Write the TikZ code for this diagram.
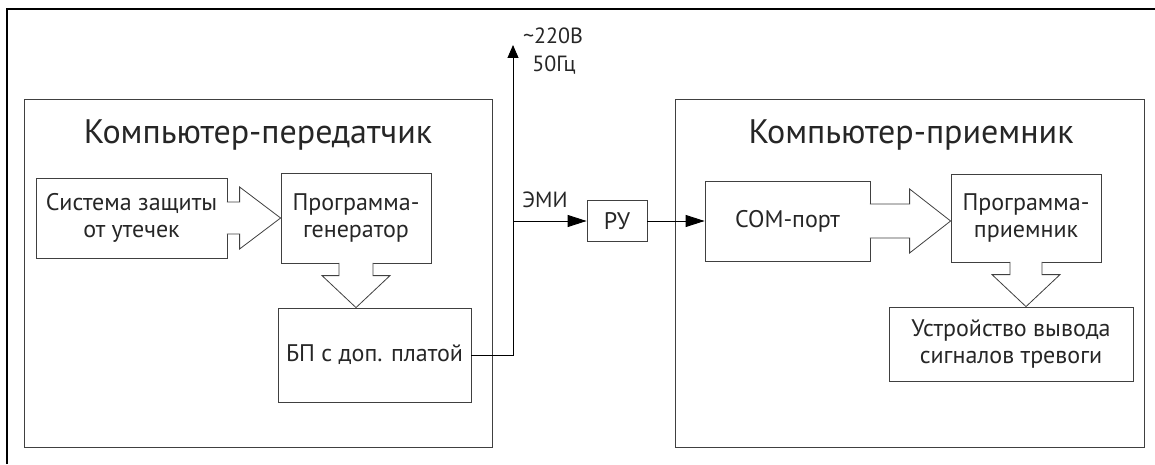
\documentclass[tikz,border=0pt]{standalone}
\usepackage{fontspec}
\setmainfont{PT Sans}
\usetikzlibrary{arrows.meta,calc}

\begin{document}
\begin{tikzpicture}[x=1pt,y=-1pt]
\tikzstyle{every node}+=[inner sep=0pt, font=\fontsize{24}{27}\selectfont, text=black!85]
\tikzstyle{blk}=[draw=black!75, line width=0.8pt, rectangle, align=center]
\tikzstyle{fat}=[draw=black!75, line width=0.8pt, fill=white, line join=miter]
\tikzstyle{wire}=[draw=black, line width=0.9pt]
\tikzstyle{ttl}=[font=\fontsize{34}{38}\selectfont]
\tikzstyle{lbl}=[font=\fontsize{22}{26}\selectfont]
\useasboundingbox (0,0) rectangle (1155,465);
\draw [black, line width=1.6pt] (7,464) -- (7,9) -- (1155,9);
% transmitter side
\node [blk, minimum width=468pt, minimum height=348pt] (tx) at (258,273) {};
\node [ttl] (txname) at (258,135) {Компьютер-передатчик};
\node [blk, minimum width=191pt, minimum height=80pt] (sys) at (131.5,218) {Система защиты\\от утечек};
\node [blk, minimum width=150pt, minimum height=90pt] (gen) at (356,218) {Программа-\\генератор};
\node [blk, minimum width=193pt, minimum height=94pt] (psu) at (374.5,355) {БП с доп. платой};
% receiver side
\node [blk, minimum width=469pt, minimum height=348pt] (rx) at (909.5,273) {};
\node [ttl] (rxname) at (911,135) {Компьютер-приемник};
\node [blk, minimum width=165pt, minimum height=80pt] (com) at (787.5,221) {COM-порт};
\node [blk, minimum width=150pt, minimum height=88pt] (rcv) at (1026,218) {Программа-\\приемник};
\node [blk, minimum width=244pt, minimum height=74pt] (alarm) at (1011,344) {Устройство вывода\\сигналов тревоги};
% between
\node [blk, minimum width=60pt, minimum height=41pt] (ru) at (617,221) {РУ};
\node [lbl] (ac) at (553,36) {\textasciitilde220В};
\node [lbl] (hz) at (554,65) {50Гц};
\node [lbl] (emilbl) at (545,200) {ЭМИ};
\coordinate (pwr) at (513,45);
\coordinate (emi) at (513,221);

% block arrows
\coordinate (t1) at (sys.east -| gen.west);
\draw [fat] ($(sys.east)+(-0.5,-16)$) -- ($(t1)+(-41,-16)$) -- ($(t1)+(-41,-31)$) -- (t1)
  -- ($(t1)+(-41,31)$) -- ($(t1)+(-41,16)$) -- ($(sys.east)+(-0.5,16)$);
\coordinate (t2) at (gen.south |- psu.north);
\draw [fat] ($(gen.south)+(-17,-0.5)$) -- ($(t2)+(-17,-32)$) -- ($(t2)+(-34,-32)$) -- (t2)
  -- ($(t2)+(34,-32)$) -- ($(t2)+(17,-32)$) -- ($(gen.south)+(17,-0.5)$);
\coordinate (t3) at (com.east -| rcv.west);
\draw [fat] ($(com.east)+(-0.5,-17)$) -- ($(t3)+(-41,-17)$) -- ($(t3)+(-41,-32)$) -- (t3)
  -- ($(t3)+(-41,32)$) -- ($(t3)+(-41,17)$) -- ($(com.east)+(-0.5,17)$);
\coordinate (t4) at (rcv.south |- alarm.north);
\draw [fat] ($(rcv.south)+(-16,-0.5)$) -- ($(t4)+(-16,-32)$) -- ($(t4)+(-34,-32)$) -- (t4)
  -- ($(t4)+(34,-32)$) -- ($(t4)+(16,-32)$) -- ($(rcv.south)+(16,-0.5)$);

% wires
\draw [wire, -{Triangle[length=13pt,width=11pt]}] (psu.east) -| (pwr);
\draw [wire, -{Triangle[length=19pt,width=12pt]}] (emi) -- (ru.west);
\draw [wire, -{Triangle[length=19pt,width=12pt]}] (ru.east) -- (com.west);
\end{tikzpicture}
\end{document}
